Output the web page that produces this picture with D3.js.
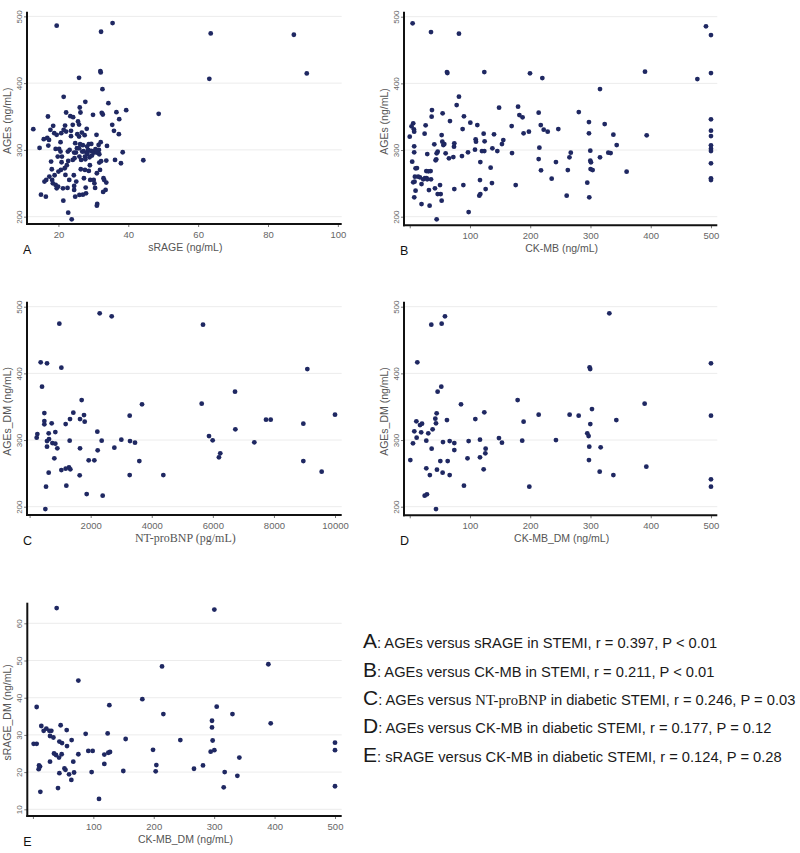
<!DOCTYPE html>
<html><head><meta charset="utf-8">
<script src="https://cdn.jsdelivr.net/npm/d3@7"></script>
<style>body{margin:0;background:#fff}svg{display:block}</style>
</head><body>
<script>
// ---- DATA ----
// Panel A: [sRAGE (ng/mL), AGEs (ng/mL)]
const pointsA = [[19.5,486],[35.5,490],[32.2,477],[63.6,474.5],[87.4,472.5],[91.1,414.5],[63.2,406.5],[32.0,418],[32.1,416],[25.9,408],[32.6,391],[48.7,354],[44.3,284.5],[39.4,359.5],[21.5,379.5],[27.7,372],[34.3,370],[26.1,363.5],[26.3,356],[29.9,352.5],[22.2,356],[17.0,350],[23.4,350.5],[24.2,349],[32.4,355.5],[32.7,353],[36.6,356.5],[35.4,337.5],[35.9,328.5],[37.3,323.5],[37.4,346],[36.2,285],[37.9,280],[38.4,296.5],
[12.8,331],[14.6,303],[15.0,233],[16.4,230],[15.8,316],[17.3,315],[17.1,306.5],[16.0,252.5],[16.5,255],[17.4,260],[17.9,282.5],[18.1,271],[17.7,330],[18.5,336],[18.8,325],[18.2,255],[18.4,250],[19.2,247.5],[19.5,242.5],[19.9,245],[19.2,301.5],[19.5,322.5],[19.8,290],[20.2,301.5],[20.6,297.5],[20.7,270],[20.9,281.5],[20.0,267.5],[20.6,311.5],[21.3,242.5],[21.4,224],[22.0,262.5],[21.8,272.5],[21.9,336.5],[22.2,327.5],[22.7,297.5],[22.8,283.5],[23.1,255],[22.8,206],[23.8,196],[23.6,328.5],[24.1,337.5],[23.6,320.5],[24.1,285],[24.5,296],[24.6,287.5],[24.5,246],[24.5,240],[24.8,230],[25.1,252.5],[25.3,302.5],[25.6,342.5],[25.4,323.5],[25.9,338],[25.9,320],[26.2,308.5],[25.9,302.5],[26.0,290],[26.0,232.5],[26.4,271],[26.8,297.5],[27.0,307],[27.3,257.5],[27.6,270],[27.8,243.5],[27.9,235],[28.1,331.5],[28.0,296],[28.3,294],[28.5,300],[28.7,308.5],[28.7,268.5],[28.9,289],[29.3,298.5],[29.4,309],[29.6,291.5],[29.1,255],[30.1,255],[30.3,250],[31.0,265],[30.9,322.5],[31.1,219],[31.0,216.5],[31.5,307.5],[31.6,300],[31.7,293.5],[31.7,281],[31.9,270],[32.1,311.5],[32.2,283],[32.9,257.5],[33.1,255],[33.5,240],[33.7,251],[33.7,284],[33.9,306],
[27.2,298],[27.6,290],[28.2,305],[29.6,298],[30.2,296],[30.6,301],[31.0,296],[26.5,285],[27.7,286],[25.0,296],[24.8,310],[21.0,290],[22.4,277],[23.2,300],[20.8,325],[21.5,330],[26.7,326],[27.5,322],[29.0,277],[22.6,243],[30.5,243],[18.9,262],[16.8,318],[24.4,262],[27.0,233],[32.8,237]];

// Panel B: [CK-MB (ng/mL), AGEs (ng/mL)]
const pointsB = [[4.8,490],[35.3,477],[81.7,474.5],[61.8,417],[62.5,415.5],[123.8,417],[199.6,415],[220.1,408],[315.8,391.5],[390.5,417.5],[477.4,406.5],[491.7,485.5],[500,472.5],[500,415.5],[500,346],[500,329],[500,321],[500,307],[500,302],[500,298.5],[500,280],[500,257.5],[500,255],[393.3,322],[360,267.5],[343.5,307.5],[338,323],[323.6,339],[333.5,295.5],[329.6,296],[315.8,289],[297.5,342],[297.5,325],[299.7,299],[299.7,284],[300.8,281.5],[300.2,271.5],[303.6,270],[294.7,251],[298,229],[280.6,357],[267.3,296],[265.1,289],[262.4,270],[260.5,231.5],[246.6,331.5],[242.7,282],[235.6,257],[229,327.5],[222.4,330.5],[217.5,337.5],[214,356],[215.2,303.5],[214,286.5],[217.9,269.5],[197.8,327.5],[189,325],[187.3,349],[182,352.5],[179.8,365],[175.9,247.5],[169.2,336],[169.8,295.5],[148.3,363.5],[155.3,315],[153.1,309],[145.4,298.5],[139.9,323.5],[137.2,302.5],[136.5,250.5],[134.3,273.5],[124.3,313],[122.7,324.5],[123.8,298.5],[119.9,298.5],[117.2,282],[116.6,255],[115.5,231.5],[117.2,234],[126,241.5],[112.2,337.5],[110,312.5],[109.4,316],[108.3,300.5],[100.6,341],[96.7,296.5],[97.8,207],[90,350.5],[87.8,331.5],[86.7,291],[89,247.5],[81.7,380],[77.9,367.5],[74,310],[73.5,305],[72.4,289.5],[74,241.5],[66.8,343.5],[65.1,287.5],[59.6,295],[54.6,355],[53,322.5],[54.1,312.5],[57.4,309],[55.8,307.5],[53,224],[51.4,234],[50.3,247.5],[46.4,234],[44.7,196],[46.4,297.5],[44.7,295],[43,284.5],[40.8,308.5],[41.9,242.5],[36.9,360],[36.4,350],[34.7,268.5],[35.3,256],[31.9,240],[33,216.5],[29.1,294],[27.5,268.5],[25.3,258],[26.4,337],[24.7,324.5],[22.4,256],[19.6,249],[16.9,259],[19.6,219],[9.7,272.5],[8.6,260],[8,252.5],[7.5,229],[9.7,239],[6.9,331],[7.4,327.5],[5.8,340],[3,335.5],[7.4,305.5],[7.4,296.5],[4.1,282.5],[5.8,251.5],[0,320],[28,258],[31,268],[14,260],[44,286],[12,273],[29,256]];

// Panel C: [NT-proBNP (pg/mL), AGEs_DM (ng/mL)]
const pointsC = [[2295,490],[2688,485.5],[974,474.5],[5678,473],[363,416.5],[570,415],[1040,408.5],[9094,406.5],[407,380],[6726,372.5],[1705,360],[3681,353.5],[5635,354.5],[1432,341],[483,340.5],[1782,337.5],[3277,336.5],[10000,338],[483,328.5],[483,323.5],[723,325],[1181,324],[1651,331.5],[1323,331.5],[1804,327.5],[7741,330.5],[7894,330.5],[8963,324.5],[6737,316],[843,312],[625,310],[254,309],[232,303.5],[636,301.5],[2218,312.5],[1312,299],[2360,299],[3004,300.5],[3288,298.5],[3451,296],[5874,306],[5994,299.5],[7358,296.5],[570,298.5],[745,295.5],[843,294.5],[570,290],[908,287.5],[1651,287.5],[2775,288.5],[2229,284.5],[6243,280],[6199,274],[810,272.5],[1935,269.5],[2120,269.5],[3593,268.5],[8963,268.5],[625,251],[1040,255],[1181,257],[1290,259],[1334,256],[1640,247],[3277,247.5],[4379,247.5],[9563,252.5],[538,230],[1203,231.5],[1869,219],[2393,216.5],[516,196.5]];

// Panel D: [CK-MB_DM (ng/mL), AGEs_DM (ng/mL)]
const pointsD = [[331.3,490],[58.5,485.5],[53,474.5],[35.8,473],[12.6,416.5],[298.6,409],[299.5,406.5],[500,415],[52.4,380],[46.3,372.5],[85.1,353.5],[179.1,360],[389.9,354.5],[302.5,346.5],[44.7,340],[61.8,330],[42.5,332],[43.6,325],[108.9,331.5],[123.8,341.5],[214,338],[265.4,338],[280.4,336.5],[500,336.5],[189,327.5],[299.7,324],[342.9,330],[11,328],[17.1,322.5],[20.4,324.5],[38,316],[30.8,310],[19,311.5],[7.6,313],[11.5,303.5],[5.4,295],[27.5,299],[36.4,287],[55.2,297],[66.3,298.5],[74,295.5],[74,285],[97.8,298.5],[116.6,300.5],[148.1,303],[153.1,296],[186.7,299],[242.7,300],[294.7,310],[296.9,306],[298,290],[316.9,289],[126,287],[125.5,280],[116.6,274],[95.9,272.5],[1,270],[50.8,268.5],[63,268.5],[297.5,270],[27.5,257.5],[45.2,255.5],[54.6,251],[66.3,247.5],[33.4,247.5],[122.7,256],[315.3,252.5],[338,247.5],[392.7,260],[500,241],[500,230],[198.5,230],[90,231.5],[24.8,216.5],[28.6,218.5],[43.6,196.5]];

// Panel E: [CK-MB_DM (ng/mL), sRAGE_DM (ng/mL)]
const pointsE = [[39.3,64.1],[300.3,63.7],[213.7,48.4],[389.7,49],[75.2,44.6],[181.1,39.6],[6.2,37.5],[126.5,38],[304.2,37.6],[215.9,35.6],[330.3,35.6],[296.4,33.8],[393.6,33.1],[296.4,32],[13.9,32.4],[45.9,32.6],[55.9,31.3],[17.8,31.1],[22.2,31.7],[27.2,31.1],[30.5,31.1],[87.3,30.3],[123.7,30.4],[28.3,29.7],[33.9,29.3],[43.8,28.2],[48.2,27.8],[64.1,28.6],[153.5,28.9],[244,28.6],[297.5,28.5],[500,27.9],[1.2,27.6],[6.2,27.6],[56.4,27],[34.9,25],[38.2,24.6],[43.2,23.9],[47.6,24.8],[75.2,24.8],[91.7,25.7],[98.9,25.7],[124.8,25.2],[127.6,25.4],[118.2,24.7],[198.8,26],[294.2,25.5],[300.3,25.9],[500,25.9],[341.7,23.9],[28.3,22.8],[66.8,22.8],[118.2,22.2],[204.3,21.9],[281.5,21.8],[266.6,20.9],[10.1,21.8],[11.8,21.5],[9.5,20.8],[52.2,21],[53.9,20.6],[43.8,19.7],[59.8,19.4],[68.1,19.9],[97.2,20],[149.6,20.3],[203.2,20.2],[317.4,20],[338.4,19],[63.6,17.9],[41.5,15.7],[12.3,14.7],[315.8,15.9],[500,16.2],[109.4,12.8]];

// Tick values
const ticksA_x = [20,40,60,80,100];
const ticksCK_x = [0,100,200,300,400,500];
const ticksBNP_x = [0,2000,4000,6000,8000,10000];
const ticksAGE_y = [200,300,400,500];
const ticksSRAGE_y = [10,20,30,40,50,60];

// Axis titles, panel letters, legend
const panelLetters = ["A","B","C","D","E"];
const xTitles = ["sRAGE (ng/mL)","CK-MB (ng/mL)","NT-proBNP (pg/mL)","CK-MB_DM (ng/mL)","CK-MB_DM (ng/mL)"];
const yTitles = ["AGEs (ng/mL)","AGEs (ng/mL)","AGEs_DM (ng/mL)","AGEs_DM (ng/mL)","sRAGE_DM (ng/mL)"];
const legendLines = [
  ["A", [": AGEs versus sRAGE in STEMI, r = 0.397, P < 0.01"]],
  ["B", [": AGEs versus CK-MB in STEMI, r = 0.211, P < 0.01"]],
  ["C", [": AGEs versus ", "NT-proBNP", " in diabetic STEMI, r = 0.246, P = 0.03"]],
  ["D", [": AGEs versus CK-MB in diabetic STEMI, r = 0.177, P = 0.12"]],
  ["E", [": sRAGE versus CK-MB in diabetic STEMI, r = 0.124, P = 0.28"]]
];

// ---- LAYOUT ----
const SANS = "'Liberation Sans', Arial, sans-serif";
const SERIF = "'Liberation Serif', 'Times New Roman', serif";
const DOT = "#1f2862";

const panels = [
  {data: pointsA, xd:[11,101.1], yd:[189,507], L:27, R:341.7, T:11.7, B:224, xt:ticksA_x, yt:ticksAGE_y, titleFont:SANS},
  {data: pointsB, xd:[-9.5,510.5], yd:[187.1,507.5], L:404, R:717.3, T:11.7, B:225.3, xt:ticksCK_x, yt:ticksAGE_y, titleFont:SANS},
  {data: pointsC, xd:[-85,10219], yd:[187.55,507.5], L:27, R:341.7, T:301.7, B:515, xt:ticksBNP_x, yt:ticksAGE_y, titleFont:SERIF},
  {data: pointsD, xd:[-9.5,510.5], yd:[187.1,507.5], L:404, R:717.3, T:301.7, B:515.3, xt:ticksCK_x, yt:ticksAGE_y, titleFont:SANS},
  {data: pointsE, xd:[-9.3,511.1], yd:[8.2,65.54], L:27.3, R:341.7, T:602.7, B:816, xt:ticksCK_x, yt:ticksSRAGE_y, titleFont:SANS}
];

const svg = d3.select("body").append("svg").attr("width",800).attr("height",853);

panels.forEach((p,i) => {
  const x = d3.scaleLinear().domain(p.xd).range([p.L,p.R]);
  const y = d3.scaleLinear().domain(p.yd).range([p.B,p.T]);
  const g = svg.append("g");

  // gridlines
  g.selectAll("line.grid").data(p.yt).join("line")
    .attr("x1",p.L).attr("x2",p.R).attr("y1",d=>y(d)).attr("y2",d=>y(d))
    .attr("stroke","#ececec").attr("stroke-width",1);

  // x axis
  const xa = g.append("g").attr("transform",`translate(0,${p.B})`)
    .call(d3.axisBottom(x).tickValues(p.xt).tickSize(3).tickFormat(d => d===0 ? "" : d));
  xa.select(".domain").remove();
  xa.selectAll(".tick line").attr("stroke","#777");
  xa.selectAll(".tick text").attr("y",7).attr("dy","0.71em")
    .attr("fill","#666").style("font-family",SANS).style("font-size","9.5px");

  // y axis
  const ya = g.append("g").attr("transform",`translate(${p.L},0)`)
    .call(d3.axisLeft(y).tickValues(p.yt).tickSize(3));
  ya.select(".domain").remove();
  ya.selectAll(".tick line").attr("stroke","#777");
  ya.selectAll(".tick text").attr("transform","rotate(-90)")
    .attr("x",0).attr("y",-5.5).attr("dy",0).attr("text-anchor","middle")
    .attr("fill","#666").style("font-family",SANS).style("font-size","8px");

  // axis lines
  g.append("line").attr("x1",p.L).attr("x2",p.L).attr("y1",p.T).attr("y2",p.B+1)
    .attr("stroke","#111").attr("stroke-width",2);
  g.append("line").attr("x1",p.L-1).attr("x2",p.R).attr("y1",p.B).attr("y2",p.B)
    .attr("stroke","#111").attr("stroke-width",2);

  // points
  g.selectAll("circle").data(p.data).join("circle")
    .attr("cx",d=>x(d[0])).attr("cy",d=>y(d[1])).attr("r",2.4).attr("fill",DOT);

  // titles
  const cx = (p.L+p.R)/2 + 1;
  g.append("text").attr("x",cx).attr("y",p.B+26.5)
    .attr("text-anchor","middle").attr("fill","#555")
    .style("font-family",p.titleFont).style("font-size", i===2 ? "12px" : "10.5px")
    .text(xTitles[i]);
  const tx = p.L - 16.5, ty = (p.T+p.B)/2 + 3;
  g.append("text").attr("transform",`translate(${tx},${ty}) rotate(-90)`)
    .attr("text-anchor","middle").attr("fill","#555")
    .style("font-family",SANS).style("font-size","10.5px").text(yTitles[i]);

  // panel letter
  g.append("text").attr("x",p.L-4).attr("y",p.B+30)
    .attr("fill","#111").style("font-family",SANS).style("font-size","12.5px")
    .text(panelLetters[i]);
});

// legend
const lg = svg.append("g");
legendLines.forEach((ln,i) => {
  const t = lg.append("text").attr("x",363).attr("y",648.3 + i*28.35)
    .attr("fill","#1a1a1a").style("font-family",SANS);
  t.append("tspan").style("font-size","21px").text(ln[0]);
  ln[1].forEach(s => {
    t.append("tspan").style("font-size","14.7px")
      .style("font-family", s==="NT-proBNP" ? SERIF : SANS)
      .text(s);
  });
});
</script>
</body></html>
